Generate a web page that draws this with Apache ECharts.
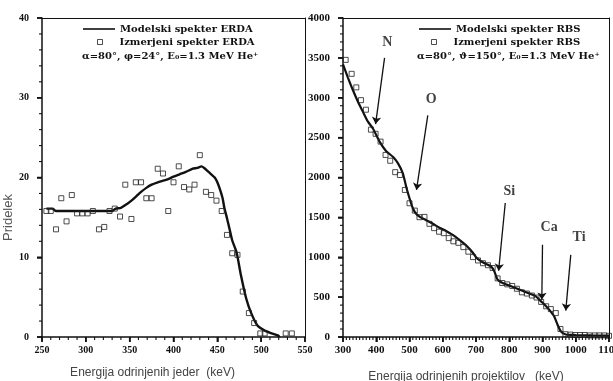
<!DOCTYPE html>
<html>
<head>
<meta charset="utf-8">
<script src="https://cdn.jsdelivr.net/npm/echarts@6/dist/echarts.min.js"></script>
<style>
html,body{margin:0;padding:0;background:#fff;}
#c{width:613px;height:381px;}
</style>
</head>
<body>
<div id="c"></div>
<script>
// ---------- DATA ----------
const erdaXTicks = [250, 300, 350, 400, 450, 500, 550];
const erdaYTicks = [0, 10, 20, 30, 40];
const rbsXTicks = [300, 400, 500, 600, 700, 800, 900, 1000, 1100];
const rbsYTicks = [0, 500, 1000, 1500, 2000, 2500, 3000, 3500, 4000];
const erdaMinorSplits = [5, 5];    // x, y: minor intervals per major interval
const rbsMinorSplits = [10, 5];

const erdaModel = [
  [255,16.1],[262,16.1],[266,15.8],[300,15.8],[330,15.8],[334,16.1],[340,16.2],[346,16.6],
  [352,17.1],[358,17.7],[363,18.2],[369,18.7],[375,19.1],[382,19.4],[388,19.6],[394,19.8],
  [400,20.1],[407,20.4],[414,20.7],[422,21.1],[427,21.2],[432,21.4],[435,21.2],[439,20.8],
  [443,20.4],[447,20.0],[450,19.4],[453,18.5],[456,17.4],[458,16.2],[461,14.9],[464,13.5],
  [467,12.1],[472,10.6],[477,7.7],[483,4.8],[489,2.9],[496,1.4],[504,0.8],[511,0.5],
  [519,0.2],[521,0]
];
const erdaMeasured = [
  [255,15.8],[260,15.8],[266,13.5],[272,17.4],[278,14.5],[284,17.8],[290,15.5],[296,15.5],
  [302,15.5],[308,15.8],[315,13.5],[321,13.8],[327,15.8],[333,16.1],[339,15.1],[345,19.1],
  [352,14.8],[357,19.4],[363,19.4],[369,17.4],[375,17.4],[382,21.1],[388,20.5],[394,15.8],
  [400,19.4],[406,21.4],[412,18.8],[418,18.5],[424,19.1],[430,22.8],[437,18.2],[443,17.8],
  [449,17.1],[455,15.8],[461,12.8],[467,10.5],[473,10.3],[479,5.7],[486,3.0],[492,1.75],
  [499,0.45],[504,0.45],[528,0.45],[535,0.45]
];

const rbsModel = [
  [300,3420],[315,3250],[330,3094],[345,2950],[360,2823],[375,2700],[390,2615],[410,2450],
  [430,2330],[450,2260],[465,2180],[480,2052],[490,1885],[500,1740],[510,1615],[520,1545],
  [530,1510],[550,1465],[570,1420],[590,1370],[610,1330],[630,1280],[650,1219],[670,1150],
  [690,1060],[700,1000],[710,965],[730,915],[745,885],[755,823],[765,720],[780,677],
  [800,645],[830,595],[860,545],[880,510],[895,450],[910,390],[920,344],[935,260],
  [945,156],[955,73],[970,31],[1000,25],[1050,20],[1100,18]
];
const rbsMeasured = [
  [308,3475],[326,3300],[340,3130],[354,2970],[369,2850],[384,2600],[398,2548],[413,2450],
  [428,2283],[442,2210],[457,2067],[471,2031],[486,1844],[500,1677],[516,1585],[530,1502],
  [545,1506],[560,1419],[574,1365],[589,1320],[603,1302],[618,1240],[632,1200],[647,1181],
  [662,1127],[677,1070],[691,1002],[706,960],[721,925],[736,900],[750,865],[765,735],
  [779,677],[794,660],[809,640],[823,605],[838,560],[853,545],[868,520],[882,495],
  [896,440],[911,385],[925,350],[940,300],[954,100],[969,35],[984,30],[998,25],
  [1013,25],[1027,25],[1042,20],[1057,20],[1071,20],[1086,20],[1100,15]
];

// element labels and arrows on the RBS spectrum (keV, counts)
const elementNames = ['N', 'O', 'Si', 'Ca', 'Ti'];
const elementLabelPos = [[433,3690],[565,2980],[800,1820],[920,1380],[1010,1255]];
const elementArrowFrom = [[425,3500],[555,2780],[788,1680],[900,1156],[985,1030]];
const elementArrowTo = [[398,2670],[521,1844],[768,831],[898,469],[970,331]];

const legendERDA = ['Modelski spekter ERDA', 'Izmerjeni spekter ERDA'];
const legendRBS = ['Modelski spekter RBS', 'Izmerjeni spekter RBS'];
const condERDA = 'α=80°, φ=24°, E₀=1.3 MeV He⁺';
const condRBS = 'α=80°, ϑ=150°, E₀=1.3 MeV He⁺';
const xNameERDA = 'Energija odrinjenih jeder  (keV)';
const xNameRBS = 'Energija odrinjenih projektilov   (keV)';
const yNameERDA = 'Pridelek';

// ---------- CHART ----------
const chart = echarts.init(document.getElementById('c'));
const ink = '#111';
const tickFont = {fontFamily: 'Liberation Serif', fontWeight: 'bold', color: ink};
const legFont = {fontFamily: 'DejaVu Serif', fontWeight: 'bold', fontSize: 10, color: ink};
const plain = v => String(v);
const first = a => a[0];
const last = a => a[a.length - 1];

// tick values (major flag 1, minor flag 0) along an axis
function tickValues(ticks, splits) {
  const out = [];
  const step = (ticks[1] - ticks[0]) / splits;
  ticks.forEach((t, i) => {
    out.push([t, 1]);
    if (i < ticks.length - 1) for (let k = 1; k < splits; k++) out.push([t + k * step, 0]);
  });
  return out;
}

function axis(gridIndex, position, ticks, extra) {
  return Object.assign({
    type: 'value', gridIndex: gridIndex, position: position,
    min: first(ticks), max: last(ticks), interval: ticks[1] - ticks[0],
    axisLine: {show: true, lineStyle: {color: ink, width: 1.5}},
    axisTick: {show: true, length: 5, lineStyle: {color: ink, width: 1.5}},
    splitLine: {show: false}
  }, extra);
}
// plain line closing the plot box on the top / right side
function frameAxis(gridIndex, position, ticks) {
  return {type: 'value', gridIndex: gridIndex, position: position,
    min: first(ticks), max: last(ticks), interval: ticks[1] - ticks[0], silent: true,
    axisLine: {show: true, onZero: false, lineStyle: {color: ink, width: 1}},
    axisTick: {show: false}, axisLabel: {show: false}, splitLine: {show: false}};
}

// tick marks drawn through the axes' own scales (custom series)
function tickSeries(idx, dir, xTicks, yTicks, splits) {
  const vals = dir === 'x' ? tickValues(xTicks, splits) : tickValues(yTicks, splits);
  const data = vals.map(v => dir === 'x' ? [v[0], first(yTicks), v[1]] : [first(xTicks), v[0], v[1]]);
  return {type: 'custom', xAxisIndex: idx, yAxisIndex: idx, silent: true, clip: false, z: 5,
    data: data,
    renderItem: function (params, api) {
      const p = api.coord([api.value(0), api.value(1)]);
      const len = api.value(2) ? 5 : 3;
      const shape = dir === 'x'
        ? {x1: p[0], y1: p[1], x2: p[0], y2: p[1] + len}
        : {x1: p[0], y1: p[1], x2: p[0] - len, y2: p[1]};
      return {type: 'line', shape: shape,
        style: {stroke: ink, lineWidth: api.value(2) ? 1.5 : 1.1}};
    }};
}

function lineLegend(name, left) {
  return {data: [{name: name, icon: 'rect'}], orient: 'vertical', left: left, top: 24, padding: 0,
    itemWidth: 32, itemHeight: 1.6, textStyle: legFont, selectedMode: false,
    itemStyle: {color: ink, borderWidth: 0}};
}
function pointLegend(name, left) {
  return {data: [{name: name, icon: 'rect'}], orient: 'vertical', left: left, top: 37, padding: 0,
    itemWidth: 5, itemHeight: 5, textStyle: Object.assign({padding: [0, 0, 0, 12]}, legFont),
    selectedMode: false,
    itemStyle: {color: '#fff', borderColor: '#222', borderWidth: 1}};
}

const option = {
  animation: false,
  backgroundColor: '#fff',
  grid: [
    {left: 42, right: 308, top: 18, bottom: 44, containLabel: false, outerBoundsMode: 'none'},
    {left: 343, right: 4, top: 18, bottom: 44, containLabel: false, outerBoundsMode: 'none'}
  ],
  title: [
    {text: condERDA, left: 82, top: 51, padding: 0, textStyle: legFont},
    {text: condRBS, left: 417, top: 51, padding: 0, textStyle: legFont}
  ],
  legend: [
    lineLegend(legendERDA[0], 83),
    pointLegend(legendERDA[1], 97),
    lineLegend(legendRBS[0], 419),
    pointLegend(legendRBS[1], 431)
  ],
  xAxis: [
    axis(0, 'bottom', erdaXTicks, {
      axisLabel: Object.assign({fontSize: 10, margin: 8, formatter: plain}, tickFont),
      name: xNameERDA, nameLocation: 'middle', nameGap: 30,
      nameTextStyle: {fontFamily: 'Liberation Sans', fontSize: 12, color: '#444', padding: [0, 42, 0, 0]}}),
    axis(1, 'bottom', rbsXTicks, {
      axisLabel: Object.assign({fontSize: 11, margin: 8, formatter: plain}, tickFont),
      name: xNameRBS, nameLocation: 'middle', nameGap: 34,
      nameTextStyle: {fontFamily: 'Liberation Sans', fontSize: 12, color: '#444', padding: [0, 20, 0, 0]}}),
    frameAxis(0, 'top', erdaXTicks),
    frameAxis(1, 'top', rbsXTicks)
  ],
  yAxis: [
    axis(0, 'left', erdaYTicks, {
      axisLabel: Object.assign({fontSize: 10, margin: 13, formatter: plain}, tickFont),
      name: yNameERDA, nameLocation: 'middle', nameRotate: 90, nameGap: 20,
      nameTextStyle: {fontFamily: 'Liberation Sans', fontSize: 13, color: '#555', padding: [0, 80, 0, 0]}}),
    axis(1, 'left', rbsYTicks, {
      axisLabel: Object.assign({fontSize: 11, margin: 13, formatter: plain}, tickFont)}),
    frameAxis(0, 'right', erdaYTicks),
    frameAxis(1, 'right', rbsYTicks)
  ],
  series: [
    {name: legendERDA[0], type: 'line', xAxisIndex: 0, yAxisIndex: 0, data: erdaModel,
     symbol: 'none', smooth: 0.2, lineStyle: {color: ink, width: 2.4}, itemStyle: {color: ink}, z: 2},
    {name: legendERDA[1], type: 'scatter', xAxisIndex: 0, yAxisIndex: 0, data: erdaMeasured,
     symbol: 'rect', symbolSize: 5,
     itemStyle: {color: 'rgba(255,255,255,0)', borderColor: '#222', borderWidth: 1}, z: 3},
    {name: legendRBS[0], type: 'line', xAxisIndex: 1, yAxisIndex: 1, data: rbsModel,
     symbol: 'none', smooth: 0.2, lineStyle: {color: ink, width: 2.2}, itemStyle: {color: ink}, z: 2},
    {name: legendRBS[1], type: 'scatter', xAxisIndex: 1, yAxisIndex: 1, data: rbsMeasured,
     symbol: 'rect', symbolSize: 5,
     itemStyle: {color: 'rgba(255,255,255,0)', borderColor: '#222', borderWidth: 1}, z: 3},
    {name: 'elements', type: 'scatter', xAxisIndex: 1, yAxisIndex: 1,
     data: elementNames.map((n, i) => ({name: n, value: elementLabelPos[i]})),
     symbolSize: 1, itemStyle: {color: 'rgba(0,0,0,0)'}, silent: true,
     label: {show: true, position: 'inside', formatter: '{b}',
       fontFamily: 'Liberation Serif', fontWeight: 'bold', fontSize: 14, color: ink},
     markLine: {silent: true, symbol: ['none', 'arrow'], symbolSize: 7,
       label: {show: false},
       lineStyle: {color: ink, width: 1.3, type: 'solid'},
       data: elementArrowFrom.map((p, i) => [{coord: p}, {coord: elementArrowTo[i]}])}},
    tickSeries(0, 'x', erdaXTicks, erdaYTicks, erdaMinorSplits[0]),
    tickSeries(0, 'y', erdaXTicks, erdaYTicks, erdaMinorSplits[1]),
    tickSeries(1, 'x', rbsXTicks, rbsYTicks, rbsMinorSplits[0]),
    tickSeries(1, 'y', rbsXTicks, rbsYTicks, rbsMinorSplits[1])
  ]
};
chart.setOption(option);
</script>
</body>
</html>
